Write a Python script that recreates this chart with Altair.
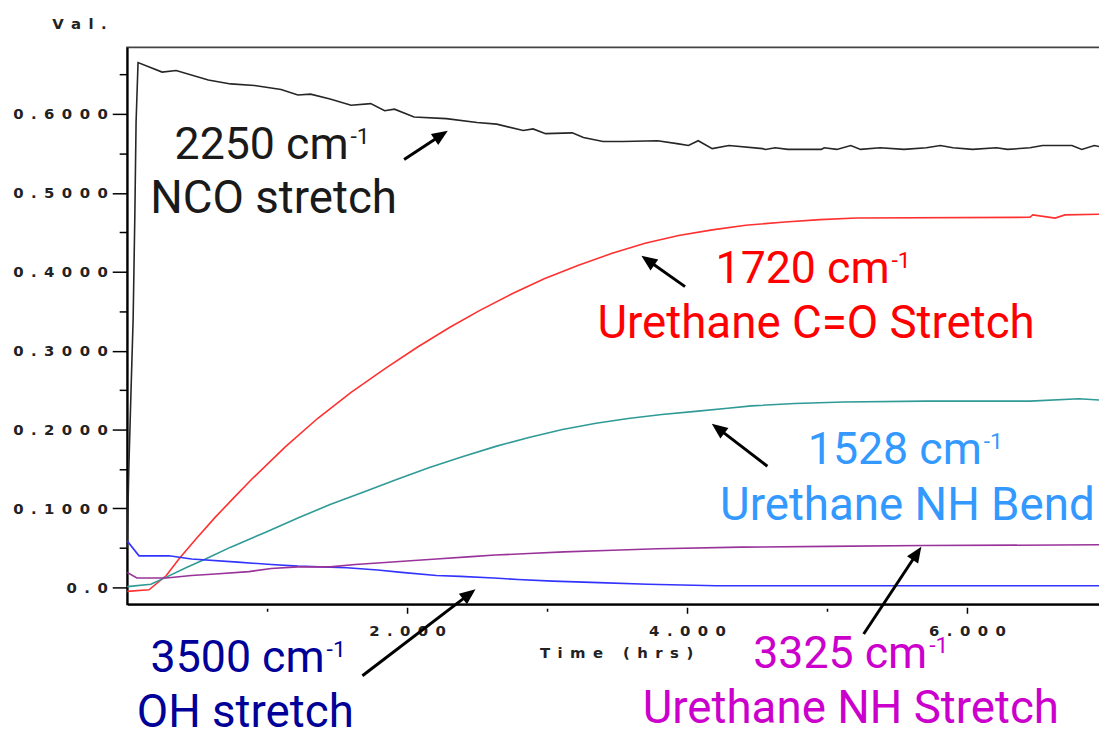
import math
import altair as alt
import pandas as pd

# ------------------------------------------------------------------ data
series_names = ["2250 NCO stretch", "1720 Urethane C=O stretch",
                "1528 Urethane NH bend", "3500 OH stretch",
                "3325 Urethane NH stretch"]

nco_t = [0.0, 0.012, 0.028, 0.043, 0.055, 0.064, 0.078, 0.25, 0.35, 0.58, 0.74,
         0.91, 1.10, 1.22, 1.31, 1.45, 1.60, 1.74, 1.84, 1.91, 2.05, 2.28, 2.50,
         2.64, 2.83, 2.90, 2.99, 3.18, 3.26, 3.40, 3.54, 3.79, 3.94, 4.01, 4.08,
         4.18, 4.30, 4.54, 4.56, 4.63, 4.72, 4.96, 4.98, 5.07, 5.17, 5.24, 5.38,
         5.55, 5.71, 5.81, 5.90, 6.04, 6.21, 6.29, 6.45, 6.54, 6.75, 6.82, 6.91, 6.99]
nco_v = [0.05, 0.15, 0.25, 0.34, 0.47, 0.59, 0.665, 0.653, 0.655, 0.643, 0.638,
         0.636, 0.631, 0.624, 0.625, 0.619, 0.611, 0.613, 0.604, 0.606, 0.596, 0.594, 0.589,
         0.587, 0.579, 0.581, 0.575, 0.576, 0.570, 0.565, 0.565, 0.566, 0.562, 0.560, 0.566,
         0.556, 0.560, 0.556, 0.555, 0.557, 0.555, 0.555, 0.557, 0.555, 0.560, 0.555, 0.557,
         0.555, 0.557, 0.560, 0.557, 0.555, 0.557, 0.555, 0.557, 0.560, 0.560, 0.555, 0.560, 0.557]

co_t = [0.0, 0.156, 0.28, 0.37, 0.49, 0.63, 0.77, 0.89, 1.13, 1.36, 1.60, 1.84,
        2.07, 2.30, 2.52, 2.75, 2.98, 3.22, 3.46, 3.70, 3.94, 4.18, 4.42, 4.70,
        4.95, 5.21, 6.45, 6.47, 6.63, 6.70, 6.99]
co_v = [-0.005, -0.003, 0.015, 0.036, 0.061, 0.089, 0.115, 0.137, 0.178, 0.214, 0.247, 0.277,
        0.304, 0.329, 0.351, 0.372, 0.391, 0.408, 0.423, 0.436, 0.446, 0.453, 0.459, 0.463,
        0.466, 0.468, 0.469, 0.472, 0.468, 0.472, 0.473]

nhb_t = [0.0, 0.17, 0.28, 0.42, 0.56, 0.74, 0.99, 1.22, 1.45, 1.69, 1.93, 2.16,
         2.40, 2.64, 2.87, 3.11, 3.35, 3.58, 3.82, 4.06, 4.29, 4.46, 4.77, 5.12,
         5.71, 6.45, 6.80, 6.99]
nhb_v = [0.001, 0.004, 0.013, 0.025, 0.036, 0.051, 0.070, 0.088, 0.105, 0.121, 0.137, 0.152,
         0.166, 0.179, 0.190, 0.200, 0.208, 0.214, 0.219, 0.223, 0.227, 0.230, 0.233, 0.235,
         0.236, 0.236, 0.239, 0.237]

oh_t = [0.0, 0.085, 0.30, 0.46, 0.79, 1.03, 1.22, 1.57, 1.79, 1.96, 2.21, 2.38,
        2.62, 2.79, 3.04, 3.37, 3.72, 4.21, 6.99]
oh_v = [0.059, 0.040, 0.040, 0.036, 0.032, 0.029, 0.027, 0.025, 0.022, 0.019, 0.015, 0.014,
        0.012, 0.010, 0.008, 0.006, 0.004, 0.002, 0.002]

nhs_t = [0.0, 0.07, 0.28, 0.46, 0.63, 0.87, 1.03, 1.22, 1.45, 1.63, 1.79, 2.05,
         2.21, 2.46, 2.63, 2.87, 3.12, 3.47, 3.79, 4.39, 5.0, 5.69, 6.99]
nhs_v = [0.019, 0.012, 0.012, 0.015, 0.017, 0.020, 0.024, 0.026, 0.026, 0.029, 0.031, 0.034,
         0.036, 0.039, 0.041, 0.043, 0.045, 0.047, 0.049, 0.051, 0.052, 0.053, 0.054]

x_tick_values = [1, 2, 3, 4, 5, 6]
x_tick_labels = ["", "2.000", "", "4.000", "", "6.000"]
y_tick_values = [0.0, 0.05, 0.1, 0.15, 0.2, 0.25, 0.3, 0.35, 0.4, 0.45, 0.5, 0.55, 0.6, 0.65]
y_tick_labels = ["0.0", "", "0.1000", "", "0.2000", "", "0.3000", "", "0.4000", "",
                 "0.5000", "", "0.6000", ""]
x_title = "Time (hrs)"
y_title = "Val."

ann_line1 = ["2250 cm", "1720 cm", "1528 cm", "3500 cm", "3325 cm"]
ann_sup = ["-1", "-1", "-1", "-1", "-1"]
ann_line2 = ["NCO stretch", "Urethane C=O Stretch", "Urethane NH Bend",
             "OH stretch", "Urethane NH Stretch"]
ann_line1_t = [1.582, 5.447, 6.106, 1.411, 5.716]
ann_line1_v = [0.5434, 0.3862, 0.1560, -0.1069, -0.1019]
ann_line2_t = [1.046, 4.922, 5.574, 0.844, 5.170]
ann_line2_v = [0.4742, 0.3157, 0.0855, -0.1774, -0.1723]
arrow_tail_t = [1.979, 3.986, 4.574, 1.681, 5.262]
arrow_tail_v = [0.5421, 0.3811, 0.1535, -0.1119, -0.0591]
arrow_tip_t = [2.291, 3.674, 4.177, 2.489, 5.674]
arrow_tip_v = [0.5786, 0.4201, 0.2075, -0.0025, 0.0516]

# ------------------------------------------------------------------ styles
line_colors = ["#262626", "#ff3030", "#2f9a96", "#3333ff", "#993399"]
text_colors = ["#1a1a1a", "#ff0000", "#3399ff", "#000099", "#cc00cc"]
PLOT_W, PLOT_H = 985, 561
X_DOMAIN = [0.0, 985 / 141]
Y_DOMAIN = [-0.0214, 0.6843]
AX_FONT = "DejaVu Sans"
AX_SIZE = 15
ANN_FONT = "Roboto"
GAP = "\u2002"


def spaced(s, sep=GAP):
    return sep.join(s)


def label_expr(values, labels, sep=GAP):
    expr = "''"
    for v, lab in reversed(list(zip(values, labels))):
        expr = f"datum.value == {v!r} ? '{spaced(lab, sep)}' : {expr}"
    return expr


xscale = alt.Scale(domain=X_DOMAIN, nice=False, zero=False)
yscale = alt.Scale(domain=Y_DOMAIN, nice=False, zero=False)

xaxis = alt.Axis(
    values=x_tick_values, labelExpr=label_expr(x_tick_values, x_tick_labels),
    title=spaced(x_title), titleFont=AX_FONT, titleFontSize=AX_SIZE,
    titleFontWeight="bold", titleColor="#222", titleY=54, titleBaseline="alphabetic",
    labelFont=AX_FONT, labelFontSize=AX_SIZE, labelFontWeight="bold", labelColor="#222",
    labelBaseline="alphabetic", labelPadding=22, labelOverlap=False, labelFlush=False,
    tickSize=9, tickColor="black", tickWidth=1.5,
    tickDash={"condition": {"test": "datum.value % 2 == 0", "value": [0, 3, 6, 100]},
              "value": [0, 4, 3, 100]},
    domainColor="black", domainWidth=2, grid=False,
)
yaxis = alt.Axis(
    values=y_tick_values, labelExpr=label_expr(y_tick_values, y_tick_labels),
    title=spaced(y_title), titleFont=AX_FONT, titleFontSize=AX_SIZE,
    titleFontWeight="bold", titleColor="#222", titleAngle=0, titleAlign="right",
    titleBaseline="alphabetic", titleX=-21, titleY=-19,
    labelFont=AX_FONT, labelFontSize=AX_SIZE, labelFontWeight="bold", labelColor="#222",
    labelAlign="right", labelBaseline="middle", labelPadding=5, labelOverlap=False,
    tickSize=15, tickColor="black", tickWidth=1.5,
    tickDash={"condition": {"test": "round(datum.value * 20) % 2 == 0", "value": [100, 0]},
              "value": [8, 100]},
    domainColor="black", domainWidth=2, grid=False,
)

X = alt.X("t:Q", scale=xscale, axis=xaxis)
Y = alt.Y("v:Q", scale=yscale, axis=yaxis)

# ------------------------------------------------------------------ line data
rows = []
for name, ts, vs in zip(series_names,
                        [nco_t, co_t, nhb_t, oh_t, nhs_t],
                        [nco_v, co_v, nhb_v, oh_v, nhs_v]):
    for t, v in zip(ts, vs):
        rows.append({"series": name, "t": t, "v": v})
lines_df = pd.DataFrame(rows)

lines = alt.Chart(lines_df).mark_line(strokeWidth=1.6, clip=True).encode(
    x=X, y=Y,
    color=alt.Color("series:N", scale=alt.Scale(domain=series_names, range=line_colors),
                    legend=None),
    detail="series:N",
)

# ------------------------------------------------------------------ arrows
px_t = PLOT_W / (X_DOMAIN[1] - X_DOMAIN[0])
px_v = PLOT_H / (Y_DOMAIN[1] - Y_DOMAIN[0])
HEAD = 16
arows = []
for t0, v0, t1, v1 in zip(arrow_tail_t, arrow_tail_v, arrow_tip_t, arrow_tip_v):
    dx = (t1 - t0) * px_t
    dy = -(v1 - v0) * px_v
    L = math.hypot(dx, dy)
    ux, uy = dx / L, dy / L
    ang = math.degrees(math.atan2(ux, -uy)) % 360
    arows.append({"t": t0, "v": v0,
                  "t2": t1 - 10 * ux / px_t, "v2": v1 + 10 * uy / px_v,
                  "tt": t1, "vt": v1, "angle": ang})
arrow_df = pd.DataFrame(arows)

shafts = alt.Chart(arrow_df).mark_rule(strokeWidth=3, color="black").encode(
    x=X, y=Y, x2="t2:Q", y2="v2:Q")
heads = alt.Chart(arrow_df).mark_point(
    shape="M0,0L-0.42,1L0.42,1Z", filled=True, size=(2 * HEAD) ** 2,
    color="black", opacity=1, strokeWidth=0,
).encode(
    x=alt.X("tt:Q", scale=xscale, axis=xaxis),
    y=alt.Y("vt:Q", scale=yscale, axis=yaxis),
    angle=alt.Angle("angle:Q", scale=None),
)

# ------------------------------------------------------------------ annotations
layers = [lines, shafts, heads]
for i in range(len(ann_line1)):
    d1 = pd.DataFrame({"t": [ann_line1_t[i]], "v": [ann_line1_v[i]],
                       "label": [ann_line1[i]], "sup": [ann_sup[i]]})
    d2 = pd.DataFrame({"t": [ann_line2_t[i]], "v": [ann_line2_v[i]],
                       "label": [ann_line2[i]]})
    layers.append(alt.Chart(d1).mark_text(
        align="right", baseline="alphabetic", font=ANN_FONT, fontSize=45,
        color=text_colors[i]).encode(x=X, y=Y, text="label:N"))
    layers.append(alt.Chart(d1).mark_text(
        align="left", baseline="alphabetic", font=ANN_FONT, fontSize=23, dx=2, dy=-15,
        color=text_colors[i]).encode(x=X, y=Y, text="sup:N"))
    layers.append(alt.Chart(d2).mark_text(
        align="center", baseline="alphabetic", font=ANN_FONT, fontSize=46,
        color=text_colors[i]).encode(x=X, y=Y, text="label:N"))

chart = alt.layer(*layers).properties(
    width=PLOT_W, height=PLOT_H,
    autosize=alt.AutoSizeParams(type="none"),
    padding={"left": 120, "top": 37, "right": -6, "bottom": 127},
    background="white",
).configure_view(stroke="#444", strokeWidth=2)

chart.save("out.html", embed_options={"renderer": "svg", "actions": False})
